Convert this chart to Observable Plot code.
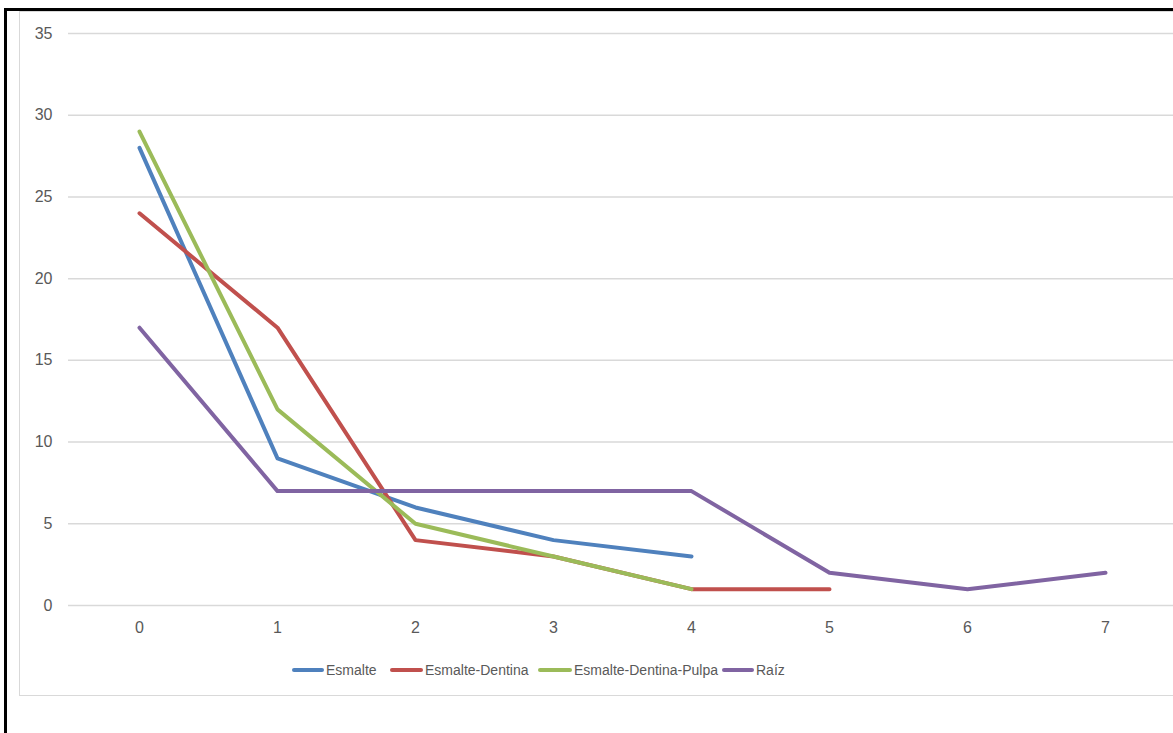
<!DOCTYPE html>
<html>
<head>
<meta charset="utf-8">
<script src="https://cdn.jsdelivr.net/npm/d3@7"></script>
<script src="https://cdn.jsdelivr.net/npm/@observablehq/plot@0.6"></script>
<style>
  html, body { margin: 0; padding: 0; background: #fff; }
  body { width: 1173px; height: 733px; position: relative; overflow: hidden; font-family: "Liberation Sans", "Open Sans", sans-serif; }
  #outer-top { position: absolute; left: 4px; top: 8px; width: 1200px; height: 3px; background: #000; }
  #outer-left { position: absolute; left: 4px; top: 8px; width: 3px; height: 740px; background: #000; }
  #frame { position: absolute; left: 19px; top: 11px; width: 1200px; height: 685px; border: 1.5px solid #d9d9d9; box-sizing: border-box; }
  #chart { position: absolute; left: 0; top: 0; }
  #legend { position: absolute; top: 660px; left: 0; height: 20px; font-size: 14px; color: #595959; }
  .item { position: absolute; top: 0; display: flex; align-items: center; height: 20px; white-space: nowrap; }
  .swatch { display: inline-block; height: 4px; border-radius: 2px; margin-right: 2px; }
</style>
</head>
<body>
<div id="outer-top"></div>
<div id="outer-left"></div>
<div id="frame"></div>
<div id="chart"></div>
<div id="legend"></div>
<script>
// Categories on the horizontal axis
const categories = [0, 1, 2, 3, 4, 5, 6, 7];
// Series values (one entry per category, shorter series stop early)
const esmalte = [28, 9, 6, 4, 3];
const esmalteDentina = [24, 17, 4, 3, 1, 1];
const esmalteDentinaPulpa = [29, 12, 5, 3, 1];
const raiz = [17, 7, 7, 7, 7, 2, 1, 2];
// Series names and colours
const seriesNames = ["Esmalte", "Esmalte-Dentina", "Esmalte-Dentina-Pulpa", "Raíz"];
const seriesColors = ["#4f81bd", "#c0504d", "#9bbb59", "#8064a2"];
// Y tick labels
const yTicks = [0, 5, 10, 15, 20, 25, 30, 35];

const seriesValues = [esmalte, esmalteDentina, esmalteDentinaPulpa, raiz];
const rows = seriesValues.flatMap((vals, i) =>
  vals.map((v, j) => ({cat: categories[j], value: v, series: seriesNames[i]}))
);

const chart = Plot.plot({
  width: 1173,
  height: 733,
  marginLeft: 68,
  marginRight: 0,
  marginTop: 33,
  marginBottom: 128,
  style: {fontFamily: "'Liberation Sans', 'Open Sans', sans-serif", background: "transparent", overflow: "visible"},
  x: {type: "point", domain: categories, range: [137, 1106.5], padding: 0},
  y: {domain: [0, 35]},
  color: {domain: seriesNames, range: seriesColors},
  marks: [
    Plot.ruleY(yTicks, {stroke: "#d9d9d9", strokeWidth: 1.5}),
    Plot.axisY({ticks: yTicks, tickSize: 0, tickPadding: 16, fontSize: 16, color: "#595959", label: null}),
    Plot.axisX({tickSize: 0, tickPadding: 16, fontSize: 16, color: "#595959", label: null}),
    Plot.line(rows, {x: "cat", y: "value", z: "series", stroke: "series", strokeWidth: 4, strokeLinecap: "round", strokeLinejoin: "round"})
  ]
});
document.getElementById("chart").appendChild(chart);

// Legend below the plot area
const legendLayout = [
  {x: 292, w: 32},
  {x: 390, w: 33},
  {x: 538, w: 34},
  {x: 722, w: 32}
];
const legend = document.getElementById("legend");
seriesNames.forEach((name, i) => {
  const item = document.createElement("div");
  item.className = "item";
  item.style.left = legendLayout[i].x + "px";
  const sw = document.createElement("span");
  sw.className = "swatch";
  sw.style.width = legendLayout[i].w + "px";
  sw.style.background = seriesColors[i];
  const label = document.createElement("span");
  label.textContent = name;
  item.appendChild(sw);
  item.appendChild(label);
  legend.appendChild(item);
});
</script>
</body>
</html>
